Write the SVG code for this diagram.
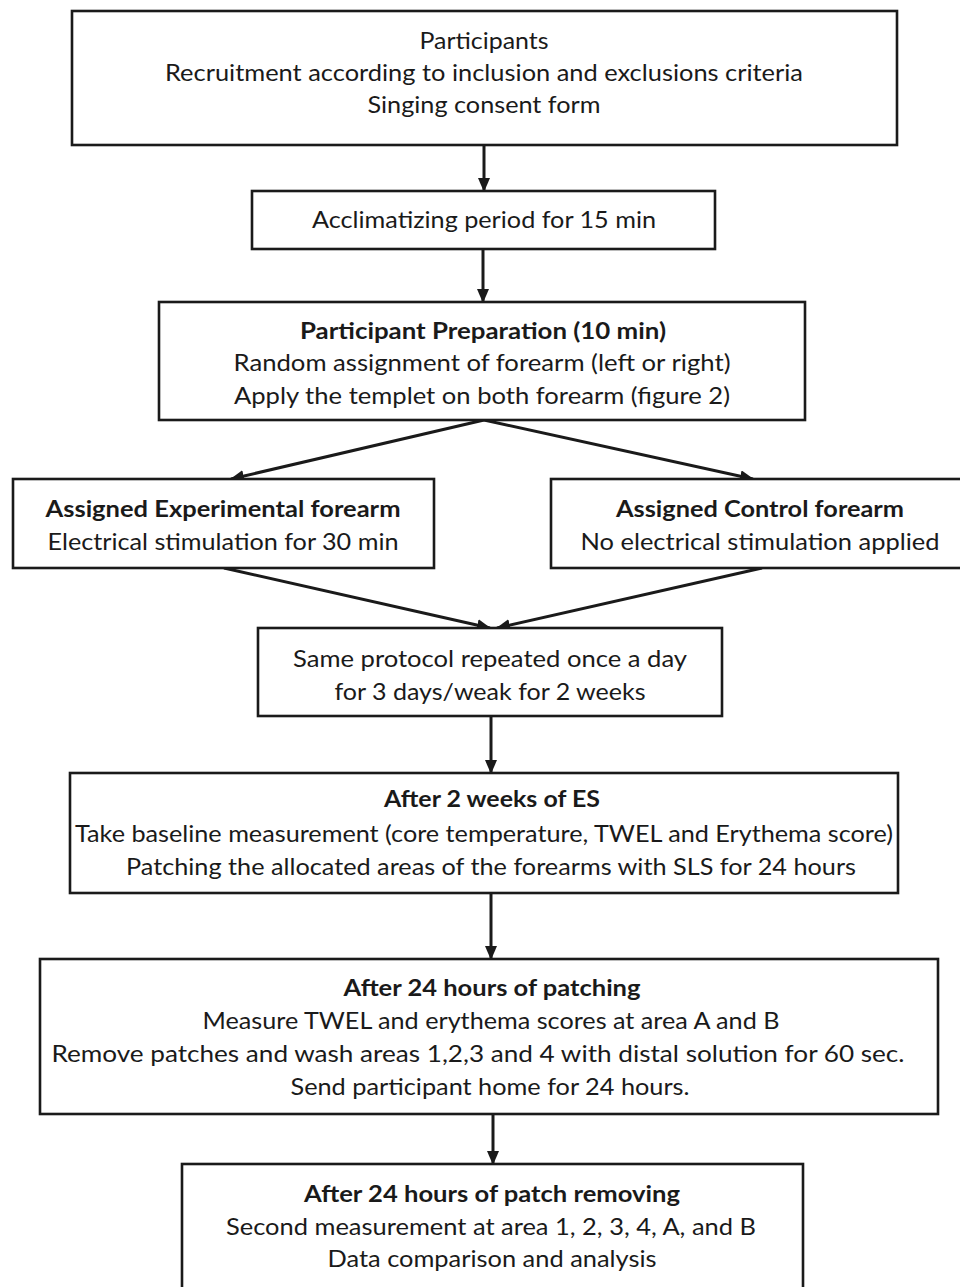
<svg xmlns="http://www.w3.org/2000/svg" width="960" height="1287" viewBox="0 0 960 1287">
<style>
.box{fill:#fff;stroke:#1a1a1a;stroke-width:2.6}
text{font-family:Lato,"Open Sans","Liberation Sans",sans-serif;font-size:23px;fill:#1a1a1a;text-anchor:middle;dominant-baseline:central}
.b{font-weight:bold}
.c{stroke:#1a1a1a;stroke-width:3;fill:none;marker-end:url(#ah)}
</style>
<defs>
<marker id="ah" viewBox="0 0 14 12" refX="13" refY="6" markerWidth="14" markerHeight="12" markerUnits="userSpaceOnUse" orient="auto">
<path d="M0,0 L14,6 L0,12 Z" fill="#1a1a1a"/>
</marker>
</defs>
<rect width="960" height="1287" fill="#fff"/>
<g id="connectors">
<line class="c" x1="484" y1="145" x2="484" y2="191"/>
<line class="c" x1="483" y1="249" x2="483" y2="302"/>
<line class="c" x1="484" y1="420" x2="231" y2="479"/>
<line class="c" x1="484" y1="420" x2="753" y2="479"/>
<line class="c" x1="224" y1="568" x2="490" y2="628"/>
<line class="c" x1="762" y1="568" x2="497" y2="628"/>
<line class="c" x1="491" y1="716" x2="491" y2="773"/>
<line class="c" x1="491" y1="893" x2="491" y2="959"/>
<line class="c" x1="493" y1="1114" x2="493" y2="1164"/>
</g>
<g id="n1">
<rect class="box" x="72" y="11" width="825" height="134"/>
<text x="484" y="40" textLength="129" lengthAdjust="spacingAndGlyphs">Participants</text>
<text x="484" y="72" textLength="638" lengthAdjust="spacingAndGlyphs">Recruitment according to inclusion and exclusions criteria</text>
<text x="484" y="104" textLength="233" lengthAdjust="spacingAndGlyphs">Singing consent form</text>
</g>
<g id="n2">
<rect class="box" x="252" y="191" width="463" height="58"/>
<text x="484" y="219" textLength="344" lengthAdjust="spacingAndGlyphs">Acclimatizing period for 15 min</text>
</g>
<g id="n3">
<rect class="box" x="159" y="302" width="646" height="118"/>
<text class="b" x="483" y="330" textLength="366" lengthAdjust="spacingAndGlyphs">Participant Preparation (10 min)</text>
<text x="482" y="362" textLength="497" lengthAdjust="spacingAndGlyphs">Random assignment of forearm (left or right)</text>
<text x="482" y="395" textLength="496" lengthAdjust="spacingAndGlyphs">Apply the templet on both forearm (figure 2)</text>
</g>
<g id="n4">
<rect class="box" x="13" y="479" width="421" height="89"/>
<text class="b" x="223" y="508" textLength="355" lengthAdjust="spacingAndGlyphs">Assigned Experimental forearm</text>
<text x="223" y="541" textLength="351" lengthAdjust="spacingAndGlyphs">Electrical stimulation for 30 min</text>
</g>
<g id="n5">
<rect class="box" x="551" y="479" width="420" height="89"/>
<text class="b" x="760" y="508" textLength="288" lengthAdjust="spacingAndGlyphs">Assigned Control forearm</text>
<text x="760" y="541" textLength="359" lengthAdjust="spacingAndGlyphs">No electrical stimulation applied</text>
</g>
<g id="n6">
<rect class="box" x="258" y="628" width="464" height="88"/>
<text x="490" y="658" textLength="394" lengthAdjust="spacingAndGlyphs">Same protocol repeated once a day</text>
<text x="490" y="691" textLength="311" lengthAdjust="spacingAndGlyphs">for 3 days/weak for 2 weeks</text>
</g>
<g id="n7">
<rect class="box" x="70" y="773" width="828" height="120"/>
<text class="b" x="492" y="798" textLength="216" lengthAdjust="spacingAndGlyphs">After 2 weeks of ES</text>
<text x="484" y="833" textLength="818" lengthAdjust="spacingAndGlyphs">Take baseline measurement (core temperature, TWEL and Erythema score)</text>
<text x="491" y="866" textLength="730" lengthAdjust="spacingAndGlyphs">Patching the allocated areas of the forearms with SLS for 24 hours</text>
</g>
<g id="n8">
<rect class="box" x="40" y="959" width="898" height="155"/>
<text class="b" x="492" y="987" textLength="297" lengthAdjust="spacingAndGlyphs">After 24 hours of patching</text>
<text x="491" y="1020" textLength="577" lengthAdjust="spacingAndGlyphs">Measure TWEL and erythema scores at area A and B</text>
<text x="478" y="1053" textLength="853" lengthAdjust="spacingAndGlyphs">Remove patches and wash areas 1,2,3 and 4 with distal solution for 60 sec.</text>
<text x="490" y="1086" textLength="399" lengthAdjust="spacingAndGlyphs">Send participant home for 24 hours.</text>
</g>
<g id="n9">
<rect class="box" x="182" y="1164" width="621" height="130"/>
<text class="b" x="492" y="1193" textLength="376" lengthAdjust="spacingAndGlyphs">After 24 hours of patch removing</text>
<text x="491" y="1226" textLength="530" lengthAdjust="spacingAndGlyphs">Second measurement at area 1, 2, 3, 4, A, and B</text>
<text x="492" y="1258" textLength="329" lengthAdjust="spacingAndGlyphs">Data comparison and analysis</text>
</g>
</svg>
